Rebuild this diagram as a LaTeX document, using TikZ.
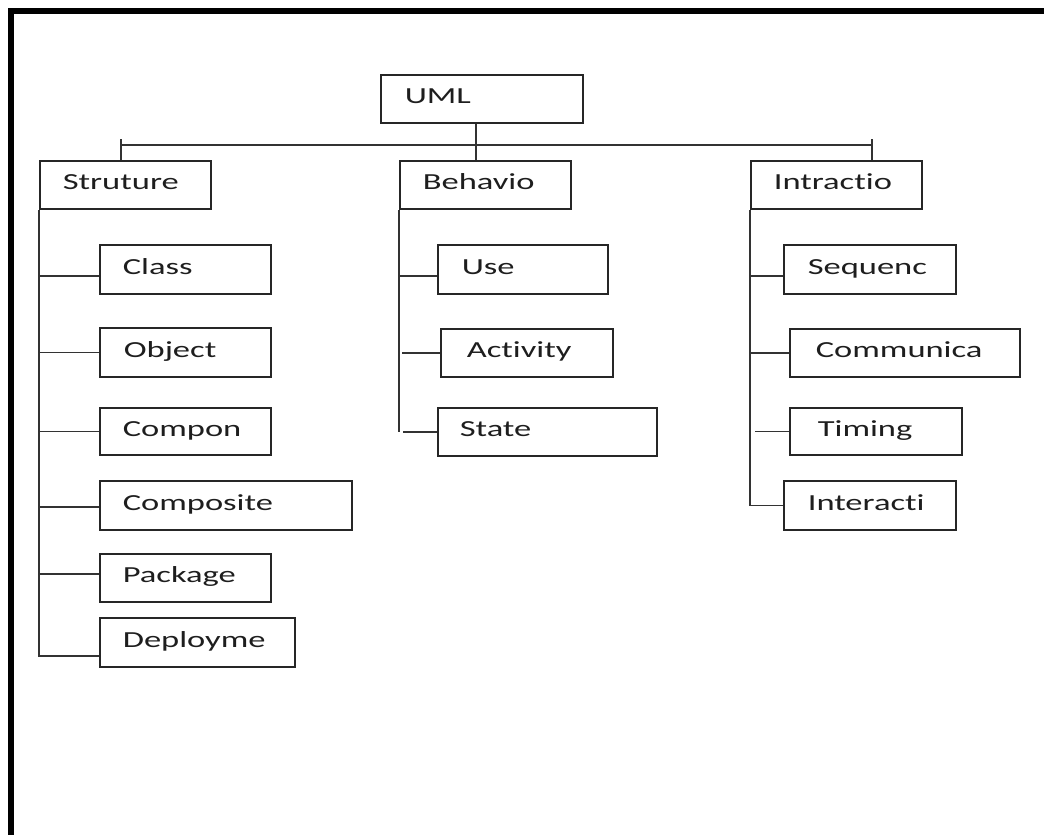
\documentclass[tikz,border=0pt]{standalone}
\usepackage{fontspec}
\newfontfamily\boxfont[FakeStretch=1.5,Ligatures=NoCommon,RawFeature=-liga]{Carlito}
\definecolor{boxline}{HTML}{262626}
\definecolor{linkline}{HTML}{333333}
\definecolor{ink}{HTML}{1E1E1E}
\begin{document}
\begin{tikzpicture}[x=1pt,y=-1pt,
  box/.style={draw=boxline, line width=1.6pt, rectangle, anchor=north west,
    inner sep=0pt, align=left, text height=10pt, text depth=0pt,
    font=\boxfont\fontsize{23pt}{25pt}\selectfont, text=ink},
  link/.style={draw=linkline, line width=1.6pt}]
\useasboundingbox (0,0) rectangle (1044,835);
% page frame (top and left edges)
\fill[black] (8,8) rectangle (1044,14);
\fill[black] (8,8) rectangle (14,835);

% root and the three groups
\node[box, text width=202pt, minimum height=48pt] (UML) at (380,74) {\hspace*{24pt}UML};
\node[box, text width=171pt, minimum height=48pt] (Struture) at (39,160) {\hspace*{23pt}Struture};
\node[box, text width=171pt, minimum height=48pt] (Behavio) at (399,160) {\hspace*{23pt}Behavio};
\node[box, text width=171pt, minimum height=48pt] (Intractio) at (750,160) {\hspace*{23pt}Intractio};

% structure diagrams
\node[box, text width=171pt, minimum height=49pt] (Class) at (99,244) {\hspace*{23pt}Class};
\node[box, text width=171pt, minimum height=49pt] (Object) at (99,327) {\hspace*{24pt}Object};
\node[box, text width=171pt, minimum height=47pt] (Compon) at (99,407) {\hspace*{23pt}Compon};
\node[box, text width=252pt, minimum height=49pt] (Composite) at (99,480) {\hspace*{23pt}Composite};
\node[box, text width=171pt, minimum height=48pt] (Package) at (99,553) {\hspace*{23pt}Package};
\node[box, text width=195pt, minimum height=49pt] (Deployme) at (99,617) {\hspace*{23pt}Deployme};

% behaviour diagrams
\node[box, text width=170pt, minimum height=49pt] (Use) at (437,244) {\hspace*{24pt}Use};
\node[box, text width=172pt, minimum height=48pt] (Activity) at (440,328) {\hspace*{26pt}Activity};
\node[box, text width=219pt, minimum height=48pt] (State) at (437,407) {\hspace*{22pt}State};

% interaction diagrams
\node[box, text width=172pt, minimum height=49pt] (Sequenc) at (783,244) {\hspace*{24pt}Sequenc};
\node[box, text width=230pt, minimum height=48pt] (Communica) at (789,328) {\hspace*{26pt}Communica};
\node[box, text width=172pt, minimum height=47pt] (Timing) at (789,407) {\hspace*{28pt}Timing};
\node[box, text width=172pt, minimum height=49pt] (Interacti) at (783,480) {\hspace*{24pt}Interacti};

% top bus
\coordinate (busL) at (121,139);
\coordinate (busR) at (872,139);
\draw[link] (busL |- 0,145) -- (busR |- 0,145);
\draw[link] (busL) -- (busL |- Struture.north);
\draw[link] (busR) -- (busR |- Intractio.north);
\draw[link] ([xshift=-6pt]UML.south) -- ([xshift=-6pt]UML.south |- Behavio.north);

% structure branch
\draw[link] (Struture.south west) |- ([yshift=-13.5pt]Deployme.west);
\draw[link] ([yshift=-6.5pt]Class.west) -- +(-59pt,0);
\draw[link] (Object.west) -- +(-59pt,0);
\draw[link] (Compon.west) -- +(-59pt,0);
\draw[link] ([yshift=-1.5pt]Composite.west) -- +(-59pt,0);
\draw[link] ([yshift=4pt]Package.west) -- +(-59pt,0);

% behaviour branch
\draw[link] (Behavio.south west) -- (Behavio.south west |- State.west);
\draw[link] ([yshift=-6.5pt]Use.west) -- +(-38pt,0);
\draw[link] (Activity.west) -- +(-38pt,0);
\draw[link] (State.west) -- +(-34pt,0);

% interaction branch
\draw[link] (Intractio.south west) |- (Interacti.west);
\draw[link] ([yshift=-6.5pt]Sequenc.west) -- +(-33pt,0);
\draw[link] (Communica.west) -- +(-39pt,0);
\draw[link] (Timing.west) -- +(-34pt,0);
\end{tikzpicture}
\end{document}
